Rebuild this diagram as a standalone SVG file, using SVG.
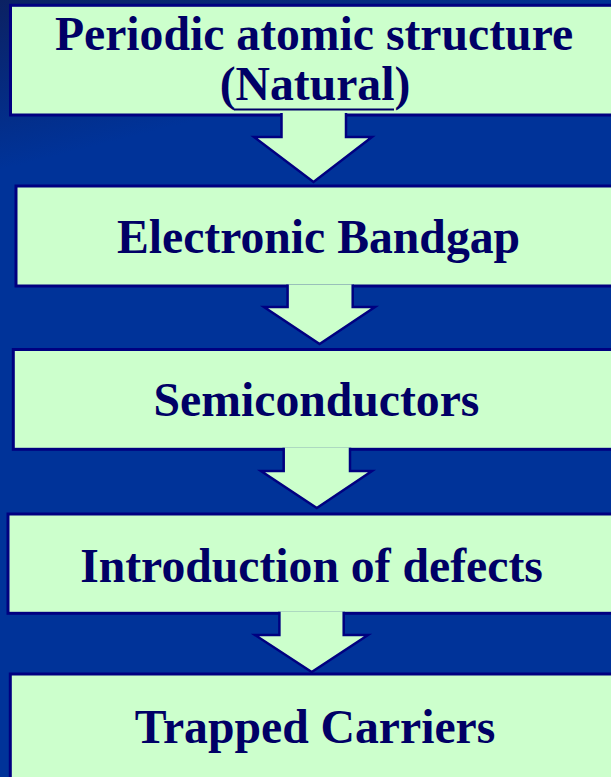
<svg xmlns="http://www.w3.org/2000/svg" width="611" height="777" viewBox="0 0 611 777">
  <defs>
    <linearGradient id="bg" gradientUnits="userSpaceOnUse" x1="0" y1="0" x2="40" y2="160">
      <stop offset="0" stop-color="#0b2163"/>
      <stop offset="1" stop-color="#003399"/>
    </linearGradient>
    <style>
      .box { fill: #CCFFCC; stroke: #000080; stroke-width: 3; }
      .arrow { fill: #CCFFCC; stroke: #000080; stroke-width: 2.5; stroke-linejoin: miter; }
      .lbl { font-family: "Liberation Serif", "Times New Roman", serif; font-weight: bold; font-size: 47.7px; fill: #000066; text-anchor: middle; }
    </style>
  </defs>
  <rect x="0" y="0" width="611" height="777" fill="url(#bg)"/>

  <g id="node-periodic">
    <rect class="box" x="10.5" y="5.3" width="620" height="109.7"/>
    <text class="lbl" x="314" y="50">Periodic atomic structure</text>
    <text class="lbl" x="315" y="100">(Natural)</text>
    <line x1="234" y1="109.5" x2="394" y2="109.5" stroke="#000066" stroke-width="2"/>
  </g>
  <g id="node-bandgap">
    <rect class="box" x="16" y="186" width="620" height="100"/>
    <text class="lbl" x="318.5" y="253">Electronic Bandgap</text>
  </g>
  <g id="node-semiconductors">
    <rect class="box" x="13.3" y="349.5" width="620" height="99.8"/>
    <text class="lbl" x="316.5" y="415.5">Semiconductors</text>
  </g>
  <g id="node-defects">
    <rect class="box" x="8" y="514" width="620" height="99.3"/>
    <text class="lbl" x="311.5" y="581.5">Introduction of defects</text>
  </g>
  <g id="node-trapped">
    <rect class="box" x="10.3" y="674" width="620" height="120"/>
    <text class="lbl" x="315" y="743">Trapped Carriers</text>
  </g>

  <g id="connectors">
    <path class="arrow" d="M281.5 113 V137 H254 L313.5 182 L372 137 H346 V113"/>
    <path class="arrow" d="M287.6 284.5 V307 H264 L319.6 344 L375 307 H352.7 V284.5"/>
    <path class="arrow" d="M283.7 447.8 V471 H261 L316.8 508 L372 471 H350 V447.8"/>
    <path class="arrow" d="M279.4 611.8 V635 H255 L311.7 672 L368 635 H343.7 V611.8"/>
  </g>
</svg>
